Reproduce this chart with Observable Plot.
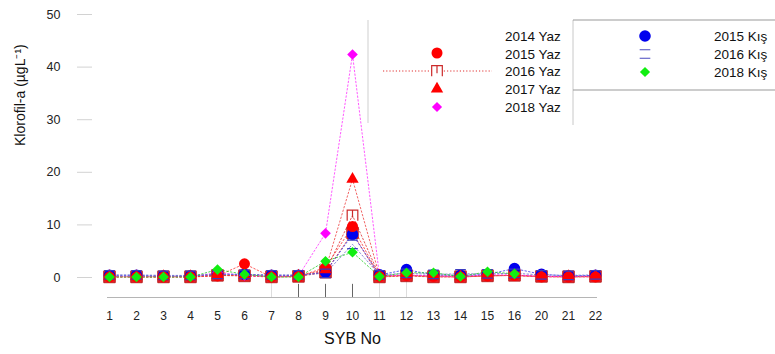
<!DOCTYPE html>
<html><head><meta charset="utf-8">
<script src="https://cdn.jsdelivr.net/npm/d3@7"></script>
<script src="https://cdn.jsdelivr.net/npm/@observablehq/plot@0.6"></script>
<style>body{margin:0;background:#fff;} svg{display:block;}</style>
</head><body><div id="chart"></div>
<script>
// ---- data ----
const sites = ["1","2","3","4","5","6","7","8","9","10","11","12","13","14","15","16","20","21","22"];
const yaz2014 = [0.1,0.1,0.1,0.1,0.4,0.3,0.1,0.2,1.0,8.5,0.1,0.3,0.1,0.1,0.3,0.4,0.2,0.1,0.2];
const yaz2015 = [0.1,0.1,0.1,0.1,0.3,2.6,0.1,0.2,1.9,9.7,0.2,0.4,0.2,0.1,0.3,0.4,0.1,0.1,0.1];
const yaz2016 = [0.2,0.2,0.2,0.2,0.4,0.4,0.2,0.3,1.2,11.8,0.3,0.4,0.3,0.2,0.4,0.4,0.2,0.2,0.2];
const yaz2017 = [0.2,0.2,0.2,0.2,0.4,0.4,0.2,0.3,1.5,18.7,0.3,0.4,0.3,0.2,0.4,0.4,0.2,0.2,0.2];
const yaz2018 = [0.2,0.2,0.2,0.2,0.9,0.4,0.2,0.3,8.4,42.4,0.3,0.5,0.3,0.2,0.5,0.5,0.2,0.2,0.3];
const kis2015 = [0.4,0.4,0.3,0.3,0.6,0.6,0.4,0.4,1.0,8.2,0.5,1.5,0.5,0.4,0.6,1.7,0.6,0.3,0.4];
const kis2016 = [0.5,0.5,0.4,0.4,0.6,0.6,0.5,0.5,0.8,6.3,0.5,0.8,0.6,0.7,0.7,0.8,0.5,0.4,0.5];
const kis2018 = [0.1,0.1,0.1,0.1,1.5,0.6,0.1,0.1,3.1,4.8,0.2,0.9,0.9,0.2,1.1,0.7,null,null,null];
const seriesNames = ["2014 Yaz","2015 Yaz","2016 Yaz","2017 Yaz","2018 Yaz","2015 Kış","2016 Kış","2018 Kış"];
const seriesValues = [yaz2014,yaz2015,yaz2016,yaz2017,yaz2018,kis2015,kis2016,kis2018];
const yTicks = [0,10,20,30,40,50];
const whiskerSites = ["7","8","9","10","11","12"];
const whiskerTop = [0,-1.3,-1.3,-1.3,0,0];
const yMin = -3.8, yMax = 50;

// ---- custom symbols ----
const symPi = {draw(ctx, size){const s=Math.sqrt(size)/2; ctx.moveTo(-s,s); ctx.lineTo(-s,-s); ctx.lineTo(s,-s); ctx.lineTo(s,s); ctx.moveTo(0,-s); ctx.lineTo(0,s*0.4);}};
const symEq = {draw(ctx, size){const s=Math.sqrt(size)/2; ctx.moveTo(-s,-s*0.8); ctx.lineTo(s,-s*0.8); ctx.moveTo(-s,s*0.8); ctx.lineTo(s,s*0.8);}};

const styles = {
  "2014 Yaz": {symbol:"square", fill:"#ee1c24", stroke:"#b01010", r:6.5, line:"#e02020"},
  "2015 Yaz": {symbol:"circle", fill:"#ff0000", stroke:"none", r:5.5, line:"#ff3030"},
  "2016 Yaz": {symbol:symPi, fill:"none", stroke:"#cc2a2a", r:6, line:"#dd3030", sw:1.2},
  "2017 Yaz": {symbol:"triangle", fill:"#ff0000", stroke:"none", r:4.6, line:"#ee4040"},
  "2018 Yaz": {symbol:"diamond2", fill:"#ff00ff", stroke:"none", r:4.8, line:"#ff30ff"},
  "2015 Kış": {symbol:"circle", fill:"#0000ee", stroke:"none", r:5.8, line:"#3a3aee"},
  "2016 Kış": {symbol:symEq, fill:"none", stroke:"#3b3bc0", r:6, line:"#6a6ad0", sw:1.2},
  "2018 Kış": {symbol:"diamond2", fill:"#11ee11", stroke:"none", r:4.8, line:"#22cc22"}
};
const drawOrder = ["2014 Yaz","2016 Yaz","2015 Kış","2018 Yaz","2015 Yaz","2017 Yaz","2016 Kış","2018 Kış"];

const rows = seriesNames.flatMap((name, k) => sites.map((site, i) => ({series:name, site, value: seriesValues[k][i]})));
const whiskers = whiskerSites.map((s,i)=>({site:s, top: whiskerTop[i]}));

const marks = [
  Plot.ruleY([yMin], {stroke:"#b5b5b5", strokeWidth:1.2}),
  Plot.ruleX(whiskers.filter(d=>d.top===0), {x:"site", y1:"top", y2:yMin, stroke:"#dddddd"}),
  Plot.ruleX(whiskers.filter(d=>d.top!==0), {x:"site", y1:"top", y2:yMin, stroke:"#666"}),
  ...seriesNames.map(name => Plot.line(rows.filter(d=>d.series===name), {x:"site", y:"value", stroke:styles[name].line, strokeWidth:1, strokeDasharray:"1.5,2.2", strokeOpacity:0.8})),
  ...drawOrder.map(name => { const st = styles[name]; return Plot.dot(rows.filter(d=>d.series===name && d.value!=null), {x:"site", y:"value", symbol: ()=>st.symbol, fill: st.fill, stroke: st.stroke, strokeWidth: st.sw || 0.8, r: st.r}); }),
  Plot.axisX({tickSize:0, tickPadding:14, fontSize:12, fill:"#222", label:null}),
  Plot.axisY(yTicks, {tickSize:15, dx:-15, tickPadding:17, stroke:"#d2d2d2", fill:"#222", fontSize:12.5, label:null}),
  Plot.text(["Klorofil-a (µgL⁻¹)"], {frameAnchor:"left", rotate:-90, dx:-87, dy:-10, fontSize:14, fill:"#111"}),
  Plot.text(["SYB No"], {frameAnchor:"bottom", dy:46, fontSize:16, fill:"#111"})
];

const chart = Plot.plot({
  width:775, height:354,
  marginLeft:107, marginRight:178, marginTop:14, marginBottom:57,
  style:{fontFamily:"'Liberation Sans', Arial, sans-serif", background:"#fff", color:"#222"},
  x:{type:"point", domain:sites, padding:0},
  y:{domain:[yMin,yMax]},
  symbol:{type:"identity"},
  marks
});
document.getElementById("chart").appendChild(chart);

// ---- legend ----
const svg = d3.select(chart);
const g = svg.append("g").attr("font-family","'Liberation Sans', Arial, sans-serif").attr("font-size",13.5).attr("fill","#111").attr("text-anchor","start");
g.append("line").attr("x1",368).attr("x2",368).attr("y1",20).attr("y2",123).attr("stroke","#cfcfcf");
const leftRows = ["2014 Yaz","2015 Yaz","2016 Yaz","2017 Yaz","2018 Yaz"];
const leftY = [36,54,71,89,107];
leftRows.forEach((t,i)=> g.append("text").attr("x",505).attr("y",leftY[i]).attr("dy","0.35em").text(t));
g.append("line").attr("x1",383).attr("x2",492).attr("y1",71).attr("y2",71).attr("stroke","#e03030").attr("stroke-dasharray","1.2,2");
const symPath = (type, r) => d3.symbol(type, r*r*Math.PI)();
g.append("path").attr("d",symPath(d3.symbolCircle,5.5)).attr("transform","translate(437,53)").attr("fill","#ff0000");
g.append("path").attr("d",symPath(symPi,6)).attr("transform","translate(437,71)").attr("fill","#fff").attr("stroke","#cc2a2a").attr("stroke-width",1.2);
g.append("path").attr("d",symPath(d3.symbolTriangle,4.6)).attr("transform","translate(437,89)").attr("fill","#ff0000");
g.append("path").attr("d",symPath(d3.symbolDiamond2,4.6)).attr("transform","translate(437,107)").attr("fill","#ff00ff");

g.append("line").attr("x1",573).attr("x2",573).attr("y1",20).attr("y2",125).attr("stroke","#c8c8c8");
g.append("line").attr("x1",573).attr("x2",775).attr("y1",20).attr("y2",20).attr("stroke","#999");
g.append("line").attr("x1",573).attr("x2",775).attr("y1",90).attr("y2",90).attr("stroke","#999");
const rightRows = ["2015 Kış","2016 Kış","2018 Kış"];
const rightY = [36,54,72];
rightRows.forEach((t,i)=> g.append("text").attr("x",714).attr("y",rightY[i]).attr("dy","0.35em").text(t));
g.append("path").attr("d",symPath(d3.symbolCircle,5.8)).attr("transform","translate(645,36)").attr("fill","#0000ee");
g.append("path").attr("d",symPath(symEq,6)).attr("transform","translate(645,54)").attr("fill","none").attr("stroke","#4a4ac0").attr("stroke-width",1.2);
g.append("path").attr("d",symPath(d3.symbolDiamond2,4.6)).attr("transform","translate(645,72)").attr("fill","#11ee11");
</script>
</body></html>
